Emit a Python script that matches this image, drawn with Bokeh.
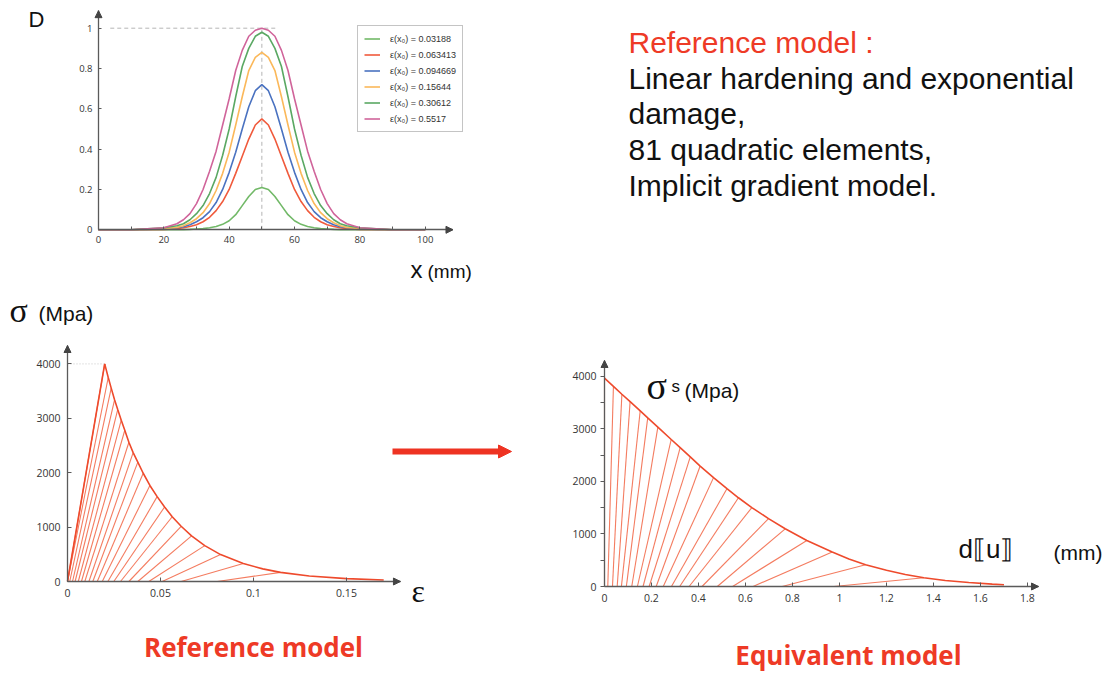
from bokeh.plotting import figure
from bokeh.models import (Label, Arrow, NormalHead, FixedTicker, Legend, LegendItem,
                          Range1d, CustomJSTickFormatter, LinearAxis)
from bokeh.embed import file_html
from bokeh.resources import INLINE

# ---------------- Panel D : damage profiles along the bar ----------------
x_mm = [0, 10, 20, 24, 26, 28, 30, 32, 34, 36, 38, 40, 42, 44, 46, 48, 50,
        52, 54, 56, 58, 60, 62, 64, 66, 68, 70, 72, 74, 76, 80, 90, 100]
d_eps1 = [0, 0, 0, 0, 0.001, 0.002, 0.004, 0.006, 0.010, 0.016, 0.027, 0.045, 0.075, 0.12, 0.165, 0.20, 0.21,
          0.20, 0.165, 0.12, 0.075, 0.045, 0.027, 0.016, 0.010, 0.006, 0.004, 0.002, 0.001, 0, 0, 0, 0]
d_eps2 = [0, 0, 0.002, 0.006, 0.010, 0.016, 0.025, 0.040, 0.062, 0.095, 0.14, 0.20, 0.28, 0.365, 0.45, 0.52, 0.55,
          0.52, 0.45, 0.365, 0.28, 0.20, 0.14, 0.095, 0.062, 0.040, 0.025, 0.016, 0.010, 0.006, 0.002, 0, 0]
d_eps3 = [0, 0, 0.004, 0.010, 0.015, 0.025, 0.040, 0.060, 0.090, 0.135, 0.20, 0.285, 0.385, 0.50, 0.61, 0.69, 0.72,
          0.69, 0.61, 0.50, 0.385, 0.285, 0.20, 0.135, 0.090, 0.060, 0.040, 0.025, 0.015, 0.010, 0.004, 0, 0]
d_eps4 = [0, 0, 0.005, 0.012, 0.020, 0.035, 0.055, 0.085, 0.13, 0.195, 0.28, 0.385, 0.52, 0.66, 0.79, 0.855, 0.88,
          0.855, 0.79, 0.66, 0.52, 0.385, 0.28, 0.195, 0.13, 0.085, 0.055, 0.035, 0.020, 0.012, 0.005, 0, 0]
d_eps5 = [0, 0, 0.010, 0.020, 0.030, 0.050, 0.080, 0.12, 0.18, 0.26, 0.37, 0.50, 0.66, 0.81, 0.90, 0.96, 0.98,
          0.96, 0.90, 0.81, 0.66, 0.50, 0.37, 0.26, 0.18, 0.12, 0.080, 0.050, 0.030, 0.020, 0.010, 0, 0]
d_eps6 = [0, 0, 0.010, 0.030, 0.050, 0.080, 0.13, 0.20, 0.29, 0.39, 0.52, 0.65, 0.79, 0.89, 0.96, 0.99, 1.0,
          0.99, 0.96, 0.89, 0.79, 0.65, 0.52, 0.39, 0.29, 0.20, 0.13, 0.080, 0.050, 0.030, 0.010, 0, 0]
d_series = [d_eps1, d_eps2, d_eps3, d_eps4, d_eps5, d_eps6]
d_labels = ["ε(x₀) = 0.03188", "ε(x₀) = 0.063413", "ε(x₀) = 0.094669",
            "ε(x₀) = 0.15644", "ε(x₀) = 0.30612", "ε(x₀) = 0.5517"]
d_colors = ["#72b968", "#f05a3c", "#4a72c0", "#fbb85a", "#5aa863", "#d0649a"]
d_center = 50
d_max = 1.0
d_guide_start, d_guide_end = 3.6, 55
d_xmax, d_ymax = 108.5, 1.087
d_xticks = [0, 20, 40, 60, 80, 100]
d_xlabels = ["0", "20", "40", "60", "80", "100"]
d_xminor = [10, 30, 50, 70, 90]
d_yticks = [0, 0.2, 0.4, 0.6, 0.8, 1.0]
d_ylabels = ["0", "0.2", "0.4", "0.6", "0.8", "1"]

# ---------------- Reference model : stress-strain ----------------
ref_env_eps = [0.0200, 0.0219, 0.0235, 0.0253, 0.0270, 0.0289, 0.0308, 0.0330, 0.0353, 0.0378, 0.0407,
               0.0443, 0.0482, 0.0522, 0.0563, 0.0611, 0.0667, 0.0738, 0.0823, 0.0945, 0.1050, 0.1145,
               0.1300, 0.1500, 0.1700]
ref_env_sig = [4000, 3750, 3555, 3340, 3160, 2965, 2780, 2560, 2370, 2195, 1990,
               1765, 1560, 1370, 1190, 1015, 840, 660, 495, 330, 232, 168,
               100, 52, 27]
ref_eps_top = [0.0200, 0.0219, 0.0235, 0.0253, 0.0270, 0.0289, 0.0308, 0.0330, 0.0353, 0.0378, 0.0407,
               0.0443, 0.0482, 0.0522, 0.0563, 0.0611, 0.0667, 0.0738, 0.0823, 0.0945, 0.1145]
ref_sig_top = [4000, 3750, 3555, 3340, 3160, 2965, 2780, 2560, 2370, 2195, 1990,
               1765, 1560, 1370, 1190, 1015, 840, 660, 495, 330, 168]
ref_eps_base = [0.0, 0.0, 0.0012, 0.0027, 0.0041, 0.0058, 0.0075, 0.0093, 0.0115, 0.0136, 0.0160,
                0.0187, 0.0217, 0.0249, 0.0285, 0.0330, 0.0378, 0.0437, 0.0509, 0.0611, 0.0805]
ref_xmax, ref_ymax = 0.179, 4338
ref_xticks = [0, 0.05, 0.1, 0.15]
ref_xlabels = ["0", "0.05", "0.1", "0.15"]
ref_yticks = [0, 1000, 2000, 3000, 4000]
ref_ylabels = ["0", "1000", "2000", "3000", "4000"]

# ---------------- Equivalent model : traction-separation ----------------
eq_env_u = [0.0, 0.038, 0.074, 0.109, 0.152, 0.184, 0.227, 0.284, 0.322, 0.365, 0.407, 0.464, 0.521,
            0.570, 0.627, 0.698, 0.769, 0.861, 0.969, 1.040, 1.111, 1.200, 1.280, 1.359, 1.450,
            1.550, 1.650, 1.700]
eq_env_sig = [3960, 3805, 3655, 3515, 3340, 3205, 3030, 2795, 2640, 2465, 2290, 2070, 1860,
              1687, 1500, 1290, 1097, 876, 655, 522, 412, 308, 228, 165, 115,
              75, 45, 34]
eq_u_top = [0.0, 0.038, 0.074, 0.109, 0.152, 0.184, 0.227, 0.284, 0.322, 0.365, 0.407, 0.464, 0.521,
            0.570, 0.627, 0.698, 0.769, 0.861, 0.969, 1.111, 1.359]
eq_sig_top = [3960, 3805, 3655, 3515, 3340, 3205, 3030, 2795, 2640, 2465, 2290, 2070, 1860,
              1687, 1500, 1290, 1097, 876, 655, 412, 165]
eq_u_base = [0.0, 0.014, 0.034, 0.054, 0.072, 0.093, 0.116, 0.140, 0.164, 0.190, 0.220, 0.250, 0.285,
             0.320, 0.360, 0.415, 0.480, 0.545, 0.632, 0.756, 0.976]
eq_xmax, eq_ymax = 1.847, 4297
eq_xticks = [0, 0.2, 0.4, 0.6, 0.8, 1.0, 1.2, 1.4, 1.6, 1.8]
eq_xlabels = ["0", "0.2", "0.4", "0.6", "0.8", "1", "1.2", "1.4", "1.6", "1.8"]
eq_yticks = [0, 1000, 2000, 3000, 4000]
eq_ylabels = ["0", "1000", "2000", "3000", "4000"]
eq_yminor = [500, 1500, 2500, 3500]

# ---------------- styling ----------------
W, H = 1108, 672
AXIS = "#5a5a5a"
TICKTXT = "#353535"
ENV = "#ee4a2c"
HATCH = "#f47c60"
RED_TXT = "#ee3a26"
BASELINE_FIX = 0.36   # svg text baseline correction (fraction of font size)

p = figure(width=W, height=H, x_range=Range1d(0, W), y_range=Range1d(H, 0),
           x_axis_location=None, y_axis_location=None, output_backend="svg",
           toolbar_location=None, min_border=0, title=None)
p.grid.visible = False
p.outline_line_color = None
p.background_fill_color = "white"
p.border_fill_color = "white"


def fmt(ticks, labels):
    return CustomJSTickFormatter(args=dict(t=ticks, l=labels), code="""
        for (let i = 0; i < t.length; i++) {
            if (Math.abs(t[i] - tick) <= 1e-9 * Math.max(1, Math.abs(tick))) return l[i];
        }
        return '';
    """)


def add_panel(name, ox, oy, sx, sy):
    """Panel whose data origin sits at screen pixel (ox, oy); sx, sy = pixels per data unit."""
    p.extra_x_ranges[name] = Range1d((0 - ox) / sx, (W - ox) / sx)
    p.extra_y_ranges[name] = Range1d((oy - H) / sy, oy / sy)


def style_axis(ax, ticks, labels, minor=None, tin=0, tout=0, standoff=5, size="10px"):
    ax.ticker = FixedTicker(ticks=ticks, minor_ticks=minor or [])
    ax.formatter = fmt(ticks, labels)
    ax.axis_line_color = AXIS
    ax.axis_line_width = 1.3
    ax.major_tick_in = tin
    ax.major_tick_out = tout
    ax.minor_tick_in = tin
    ax.minor_tick_out = tout
    ax.major_tick_line_color = AXIS
    ax.minor_tick_line_color = AXIS if minor else None
    ax.major_label_text_font = "Open Sans"
    ax.major_label_text_font_size = size
    ax.major_label_text_color = TICKTXT
    ax.major_label_standoff = standoff


def panel_axes(name, xmax, ymax, xt, xl, yt, yl, xminor=None, yminor=None,
               xin=3, xout=0, yin=3, yout=0, xstand=6, ystand=6, size="10px"):
    xa = LinearAxis(x_range_name=name, y_range_name=name, fixed_location=0, bounds=(0, xmax))
    style_axis(xa, xt, xl, xminor, tin=xin, tout=xout, standoff=xstand, size=size)
    p.add_layout(xa, "below")
    ya = LinearAxis(x_range_name=name, y_range_name=name, fixed_location=0, bounds=(0, ymax))
    style_axis(ya, yt, yl, yminor, tin=yin, tout=yout, standoff=ystand, size=size)
    p.add_layout(ya, "left")
    head = dict(size=7, fill_color="#444444", line_color="#444444", line_width=1)
    p.add_layout(Arrow(end=NormalHead(**head), x_start=xmax * 0.99, y_start=0, x_end=xmax, y_end=0,
                       line_color=AXIS, line_width=1, x_range_name=name, y_range_name=name))
    p.add_layout(Arrow(end=NormalHead(**head), x_start=0, y_start=ymax * 0.99, x_end=0, y_end=ymax,
                       line_color=AXIS, line_width=1, x_range_name=name, y_range_name=name))


def label(x, y, text, size, font="Liberation Sans", color="#111111", style="normal",
          align="left"):
    """x, y: screen position of the text's left (or centre) end on its baseline."""
    px = float(size.replace("px", ""))
    p.add_layout(Label(x=x, y=y - BASELINE_FIX * px, text=text, text_font_size=size,
                       text_font=font, text_color=color, text_font_style=style,
                       text_align=align, text_baseline="alphabetic"))


# ---------- panel D ----------
add_panel("d", 98, 229.3, 3.267, 201.6)
panel_axes("d", d_xmax, d_ymax, d_xticks, d_xlabels, d_yticks, d_ylabels, xminor=d_xminor,
           size="9.5px", xstand=6, ystand=6)
p.line([d_guide_start, d_guide_end], [d_max, d_max], line_color="#b5b5b5", line_dash="4 3",
       line_width=1, x_range_name="d", y_range_name="d")
p.line([d_center, d_center], [0, d_max], line_color="#b5b5b5", line_dash="4 3", line_width=1,
       x_range_name="d", y_range_name="d")
items = []
for ys, lab, col in zip(d_series, d_labels, d_colors):
    r = p.line(x_mm, ys, line_color=col, line_width=1.6, x_range_name="d", y_range_name="d")
    items.append(LegendItem(label=lab, renderers=[r]))
leg = Legend(items=items, location=(357, H - 132), padding=6, spacing=3, glyph_height=13,
             glyph_width=16, label_height=13, label_standoff=10, margin=0,
             label_text_font_size="9px", label_text_font="Liberation Sans",
             label_text_color="#333333", border_line_color="#8a8a8a", border_line_width=1.2,
             background_fill_color="white", background_fill_alpha=1.0)
p.add_layout(leg)

# ---------- reference model ----------
add_panel("ref", 67, 581, 1860, 0.0544)
panel_axes("ref", ref_xmax, ref_ymax, ref_xticks, ref_xlabels, ref_yticks, ref_ylabels,
           xin=4, yin=4, size="10.5px", xstand=7, ystand=7)
p.line([0, ref_eps_top[0]], [ref_sig_top[0], ref_sig_top[0]], line_color="#c8c8c8",
       line_dash="1 2", line_width=1, x_range_name="ref", y_range_name="ref")
p.multi_line([[b, t] for b, t in zip(ref_eps_base, ref_eps_top)],
             [[0, s] for s in ref_sig_top], line_color=HATCH, line_width=1.1,
             x_range_name="ref", y_range_name="ref")
p.line([0, ref_eps_top[0]], [0, ref_sig_top[0]], line_color=ENV, line_width=1.6,
       x_range_name="ref", y_range_name="ref")
p.line(ref_env_eps, ref_env_sig, line_color=ENV, line_width=1.6,
       x_range_name="ref", y_range_name="ref")

# ---------- equivalent model ----------
add_panel("eq", 604, 586, 235, 0.0526)
panel_axes("eq", eq_xmax, eq_ymax, eq_xticks, eq_xlabels, eq_yticks, eq_ylabels,
           yminor=eq_yminor, xin=4, yin=0, yout=4, size="10.5px", xstand=7, ystand=4)
p.multi_line([[b, t] for b, t in zip(eq_u_base, eq_u_top)],
             [[0, s] for s in eq_sig_top], line_color=HATCH, line_width=1.1,
             x_range_name="eq", y_range_name="eq")
p.line(eq_env_u, eq_env_sig, line_color=ENV, line_width=1.6,
       x_range_name="eq", y_range_name="eq")

# ---------- big arrow between the two models ----------
p.add_layout(Arrow(end=NormalHead(size=13, fill_color="#ee3322", line_color="#ee3322", line_width=1),
                   x_start=392, y_start=451, x_end=511, y_end=451,
                   line_color="#ee3322", line_width=6))

# ---------- texts (screen pixel positions, baseline) ----------
label(28, 27, "D", "22px")
label(410, 278, "x", "24px")
label(427, 278, "(mm)", "19px")

text_lines = ["Linear hardening and exponential", "damage,", "81 quadratic elements,",
              "Implicit gradient model."]
label(628, 52.5, "Reference model :", "30px", color=RED_TXT)
for i, t in enumerate(text_lines):
    label(628, 88.3 + 35.8 * i, t, "30px", color="#111111")

label(9, 322, "σ", "34px", font="Liberation Serif")
label(38, 321, "(Mpa)", "21px")
label(411, 602, "ε", "32px", font="Liberation Serif")
label(253, 656, "Reference model", "26px", font="Open Sans", color=RED_TXT,
      style="bold", align="center")

label(646, 399, "σ", "38px", font="Liberation Serif")
label(671, 392, "s", "17px")
label(684, 398, "(Mpa)", "21px")
label(958, 558, "d⟦u⟧", "26px")
label(1053, 560, "(mm)", "21px")
label(848, 664, "Equivalent model", "26px", font="Open Sans", color=RED_TXT,
      style="bold", align="center")

open("out.html", "w").write(file_html(p, INLINE))
